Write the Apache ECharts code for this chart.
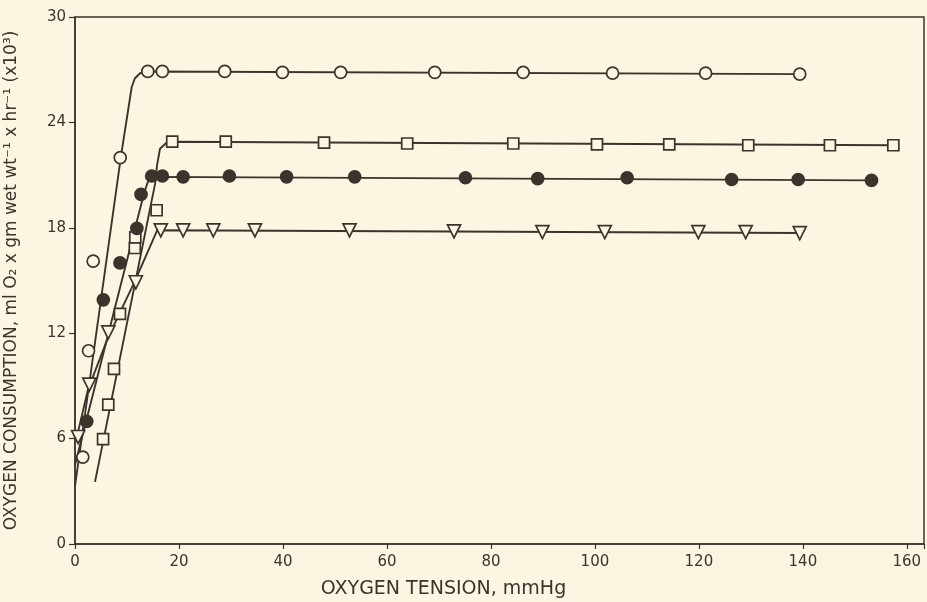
<!DOCTYPE html>
<html>
<head>
<meta charset="utf-8">
<style>
html,body{margin:0;padding:0;background:#fcf5e1;}
#c{width:927px;height:602px;}
</style>
<script src="https://cdn.jsdelivr.net/npm/echarts@6/dist/echarts.min.js"></script>
</head>
<body>
<div id="c"></div>
<script>
// ---- data ----
const xTicks = [0, 20, 40, 60, 80, 100, 120, 140, 160];
const yTicks = [0, 6, 12, 18, 24, 30];

// open circles
const openCircleX = [1.5, 2.6, 3.5, 8.7, 14.0, 16.8, 28.8, 39.9, 51.1, 69.2, 86.2, 103.4, 121.3, 139.4];
const openCircleY = [4.95, 11.0, 16.1, 22.0, 26.9, 26.9, 26.9, 26.85, 26.85, 26.85, 26.85, 26.8, 26.8, 26.75];
const openCircleFitX = [0, 8.8, 10.9, 11.5, 12.5, 14.0, 139.4];
const openCircleFitY = [3.3, 22.0, 26.0, 26.5, 26.8, 26.9, 26.75];

// open squares
const squareX = [5.4, 6.4, 7.5, 8.65, 11.5, 11.6, 15.7, 18.7, 29.0, 47.9, 63.9, 84.3, 100.4, 114.3, 129.5, 145.2, 157.4];
const squareY = [5.97, 7.93, 9.97, 13.1, 16.85, 17.45, 19.0, 22.9, 22.9, 22.85, 22.8, 22.8, 22.75, 22.75, 22.7, 22.7, 22.7];
const squareFitX = [3.85, 15.4, 15.8, 16.35, 17.7, 18.7, 157.4];
const squareFitY = [3.54, 20.5, 21.6, 22.5, 22.87, 22.9, 22.7];

// filled circles
const filledX = [2.25, 5.45, 8.65, 11.9, 12.7, 14.75, 16.8, 20.8, 29.7, 40.7, 53.8, 75.1, 89.0, 106.2, 126.3, 139.1, 153.2];
const filledY = [6.98, 13.9, 16.0, 17.97, 19.9, 20.95, 20.95, 20.9, 20.95, 20.9, 20.9, 20.85, 20.8, 20.85, 20.75, 20.75, 20.7];
const filledFitX = [0, 13.3, 14.0, 15.0, 153.2];
const filledFitY = [4.5, 20.0, 20.6, 20.9, 20.7];

// open inverted triangles
const triX = [0.6, 2.75, 6.4, 11.7, 16.5, 20.8, 26.6, 34.6, 52.8, 72.9, 89.9, 101.9, 119.9, 129.0, 139.4];
const triY = [6.09, 9.07, 12.05, 14.9, 17.85, 17.85, 17.85, 17.85, 17.85, 17.8, 17.75, 17.75, 17.75, 17.75, 17.7];
const triFitX = [0.2, 2.5, 6.35, 11.5, 15.8, 139.4];
const triFitY = [5.9, 8.8, 11.75, 14.95, 17.86, 17.7];

// ---- build ----
const zip = (a, b) => a.map((v, i) => [v, b[i]]);
const INK = '#3b342d';
const BG = '#fcf5e1';

function fitLine(x, y) {
  return {
    type: 'line', data: zip(x, y), showSymbol: false, symbol: 'none',
    lineStyle: { color: INK, width: 1.9 }, z: 2, animation: false, silent: true
  };
}
function markers(x, y, symbol, size, filled, rotate) {
  return {
    type: 'scatter', data: zip(x, y), symbol: symbol, symbolSize: size,
    symbolRotate: rotate || 0,
    itemStyle: { color: filled ? INK : BG, borderColor: INK, borderWidth: 1.7, opacity: 1 },
    z: 5, animation: false, silent: true
  };
}

const chart = echarts.init(document.getElementById('c'), null, { renderer: 'canvas' });
chart.setOption({
  backgroundColor: BG,
  animation: false,
  grid: {
    left: 75, right: 3, top: 17, bottom: 58, containLabel: false, outerBoundsMode: 'none',
    show: true, borderColor: INK, borderWidth: 1.5, backgroundColor: 'transparent'
  },
  xAxis: {
    type: 'value', min: 0, max: 163.3, interval: 20,
    name: 'OXYGEN TENSION, mmHg', nameLocation: 'middle', nameGap: 36,
    nameTextStyle: { color: INK, fontSize: 19, fontFamily: 'DejaVu Sans', fontWeight: 'normal', padding: [0, 112, 0, 0] },
    axisLine: { lineStyle: { color: INK, width: 1.5 } },
    axisTick: { show: true, length: 5, lineStyle: { color: INK, width: 1.2 } },
    axisLabel: {
      color: INK, fontSize: 15, fontFamily: 'DejaVu Sans', margin: 11,
      formatter: v => (xTicks.indexOf(v) >= 0 ? String(v) : '')
    },
    splitLine: { show: false }
  },
  yAxis: {
    type: 'value', min: 0, max: 30, interval: 6,
    name: 'OXYGEN CONSUMPTION, ml O\u2082 x gm wet wt\u207B\u00B9 x hr\u207B\u00B9 (x10\u00B3)',
    nameLocation: 'middle', nameGap: 55, nameRotate: 90,
    nameTextStyle: { color: INK, fontSize: 17, fontFamily: 'DejaVu Sans' },
    axisLine: { lineStyle: { color: INK, width: 1.5 } },
    axisTick: { show: true, length: 6, lineStyle: { color: INK, width: 1.2 } },
    axisLabel: {
      color: INK, fontSize: 15, fontFamily: 'DejaVu Sans', margin: 9,
      formatter: v => (yTicks.indexOf(v) >= 0 ? String(v) : '')
    },
    splitLine: { show: false }
  },
  series: [
    fitLine(openCircleFitX, openCircleFitY),
    fitLine(squareFitX, squareFitY),
    fitLine(filledFitX, filledFitY),
    fitLine(triFitX, triFitY),
    markers(openCircleX, openCircleY, 'circle', 12, false),
    markers(squareX, squareY, 'rect', 11, false),
    markers(filledX, filledY, 'circle', 12, true),
    markers(triX, triY, 'triangle', 13, false, 180)
  ]
});
</script>
</body>
</html>
